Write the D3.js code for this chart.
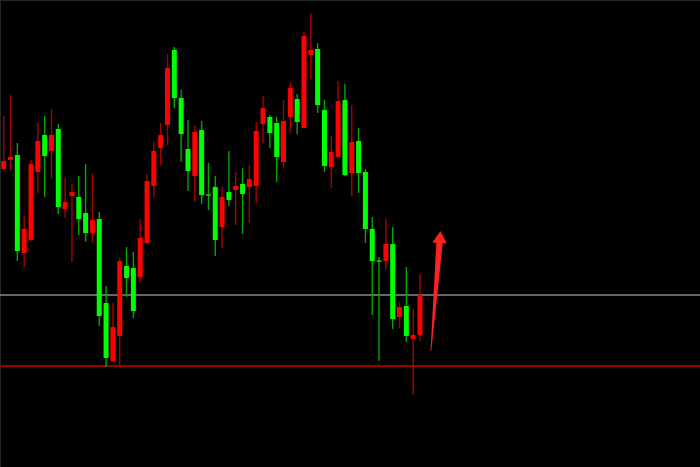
<!DOCTYPE html>
<html>
<head>
<meta charset="utf-8">
<script src="https://cdn.jsdelivr.net/npm/d3@7"></script>
<style>
html,body{margin:0;padding:0;background:#000;}
svg{display:block;}
</style>
</head>
<body>
<svg id="chart" width="700" height="467"></svg>
<script>
// OHLC values (price units)
const opens  = [331,340,345,247,260,328,365,349,371,291,304,303,287,267,281,197,139,164,234,232,223,257,314,352,375,450,402,351,324,370,305.5,313,273,308,310,316,313,314,376,383,377,338,383,401,372,445,451,390,333,343,400,327,359,328,271,239.5,239,256,183,194,161,165];
const highs  = [384,405,357,284,340,378,384,391,376,322,316,324,336,326,288,214,197,242,253,248,281,326,358,377,446,453,410,380,375,379,337,324,313,349,328,332,335,378,404,385,383,400,418,406,468,487,457,400,364,419,416,395,372,331,283,243,282,273,198,233,191,226];
const lows   = [330,330,239,233,259,307,303,322,286,282,238,265,258,257,174,133,138,133,203,182,217,256,302,335,355,392,338,309,298,296,290,244,252,294,275,266,277,297,357,352,318,332,367,366,372,421,387,328,312,343,324,304,307,257,185,139,230,171,172,158,105,159];
const closes = [339,343,249,271,336,359,344,365,293,298,308,281,267,280,184,142,173,239,222,189,262,319,349,365,432,402,366,329,368,305,304.5,260,303,300,314,306,321,369,392,367,343,379,412,378,464,450,395,334,348,399,325,358,327,271,239,238.5,256,181,193,164,165,205];
const candles = opens.map((o,i)=>({i, o, h:highs[i], l:lows[i], c:closes[i]}));

// horizontal levels
const levelGray = 205;
const levelRed = 134;
// arrow (index position, price)
const arrowTail = {i:62.6, v:149};
const arrowTip  = {i:64.0, v:269};

const W = 700, H = 467;
const svg = d3.select("#chart");
svg.append("rect").attr("width",W).attr("height",H).attr("fill","#000");
// faint frame
svg.append("line").attr("x1",0).attr("x2",W).attr("y1",0.5).attr("y2",0.5).attr("stroke","#262626").attr("stroke-width",1);
svg.append("line").attr("x1",0.5).attr("x2",0.5).attr("y1",0).attr("y2",H).attr("stroke","#262626").attr("stroke-width",1);

const x = d3.scaleLinear().domain([0, 61]).range([3.7, 420]);
const y = d3.scaleLinear().domain([500, 33]).range([0, 467]);

// levels
svg.append("line").attr("x1",0).attr("x2",W).attr("y1",y(levelGray)).attr("y2",y(levelGray))
  .attr("stroke","#8a8a8a").attr("stroke-width",1.3);
svg.append("line").attr("x1",0).attr("x2",W).attr("y1",y(levelRed)).attr("y2",y(levelRed))
  .attr("stroke","#9b0000").attr("stroke-width",2);

const up = d => d.c > d.o;
const bodyW = 5;

const g = svg.append("g");
g.selectAll("line.wick").data(candles).join("line")
  .attr("class","wick")
  .attr("x1",d=>x(d.i)).attr("x2",d=>x(d.i))
  .attr("y1",d=>y(d.h)).attr("y2",d=>y(d.l))
  .attr("stroke",d=>up(d)?"#a80000":"#00a800")
  .attr("stroke-width",1.4);

g.selectAll("rect.body").data(candles).join("rect")
  .attr("class","body")
  .attr("x",d=>x(d.i)-bodyW/2)
  .attr("width",bodyW)
  .attr("y",d=>y(Math.max(d.o,d.c)))
  .attr("height",d=>Math.max(1.2, Math.abs(y(d.o)-y(d.c))))
  .attr("fill",d=>up(d)?"#ff0000":"#00ff00");

// arrow
const tx = x(arrowTail.i), ty = y(arrowTail.v);
const px = x(arrowTip.i), py = y(arrowTip.v);
const headLen = 12;
const dx = px-tx, dy = py-ty, len = Math.hypot(dx,dy);
const ux = dx/len, uy = dy/len, nx = -uy, ny = ux;
const bx = px-ux*headLen, by = py-uy*headLen;
const pts = [
  [tx - nx*0.4, ty - ny*0.4],
  [bx - nx*3.2, by - ny*3.2],
  [bx - nx*7.2, by - ny*7.2],
  [px, py],
  [bx + nx*7.2, by + ny*7.2],
  [bx + nx*3.2, by + ny*3.2],
  [tx + nx*0.4, ty + ny*0.4]
];
svg.append("polygon").attr("points", pts.map(p=>p.join(",")).join(" "))
  .attr("fill","#ff2222");
</script>
</body>
</html>
